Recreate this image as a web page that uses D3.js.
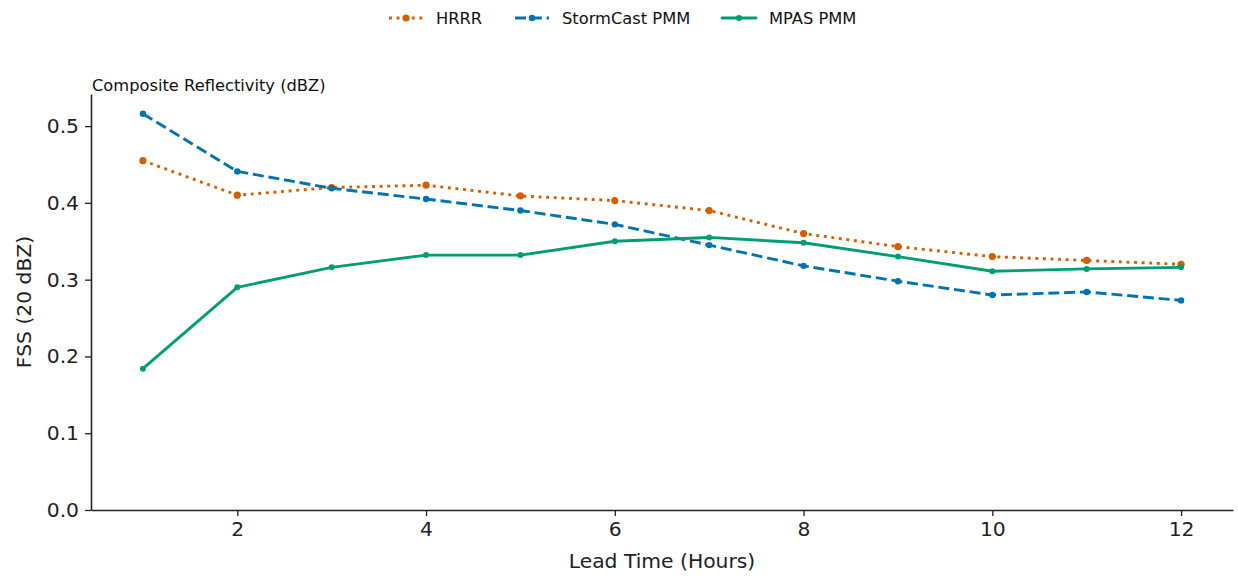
<!DOCTYPE html>
<html>
<head>
<meta charset="utf-8">
<script src="https://cdn.jsdelivr.net/npm/d3@7"></script>
<style>
  body { margin: 0; background: #fff; }
  svg { display: block; font-family: "DejaVu Sans", sans-serif; }
</style>
</head>
<body>
<div id="chart"></div>
<script>
const width = 1238;
const height = 576;
const marginTop = 94;
const marginRight = 5;
const marginBottom = 66;
const marginLeft = 91;

// lead times in hours
const leadTimes = [1, 2, 3, 4, 5, 6, 7, 8, 9, 10, 11, 12];
const hrrr = [0.455, 0.410, 0.420, 0.423, 0.409, 0.403, 0.390, 0.360, 0.343, 0.330, 0.325, 0.320];
const stormcast = [0.516, 0.441, 0.419, 0.405, 0.390, 0.372, 0.345, 0.318, 0.298, 0.280, 0.284, 0.273];
const mpas = [0.184, 0.290, 0.316, 0.332, 0.332, 0.350, 0.355, 0.348, 0.330, 0.311, 0.314, 0.316];
const xTicks = [2, 4, 6, 8, 10, 12];
const yTicks = [0, 0.1, 0.2, 0.3, 0.4, 0.5];

const series = [
    { name: "HRRR", values: hrrr, color: "#d55e00", dash: "2.9,4.7", cap: "butt", r: 3.6 },
    { name: "StormCast PMM", values: stormcast, color: "#0173b2", dash: "11,4.8", cap: "butt", r: 3.2 },
    { name: "MPAS PMM", values: mpas, color: "#029e73", dash: null, cap: "round", r: 3 }
];

const svg = d3.select("#chart")
    .append("svg")
    .attr("width", width)
    .attr("height", height)
    .attr("viewBox", [0, 0, width, height]);

const x = d3.scaleLinear()
    .domain([0.45, 12.55])
    .range([marginLeft, width - marginRight]);

const y = d3.scaleLinear()
    .domain([0, 0.5418])
    .range([height - marginBottom, marginTop]);

const tickFont = 20.3;

// axes
svg.append("g")
    .attr("transform", `translate(0,${height - marginBottom})`)
    .call(d3.axisBottom(x).tickValues(xTicks).tickFormat(d3.format("d")).tickSize(6).tickPadding(6).tickSizeOuter(0))
    .call(g => g.select(".domain").attr("stroke", "#222").attr("stroke-width", 1.6))
    .call(g => g.selectAll(".tick line").attr("stroke", "#222").attr("stroke-width", 1.3))
    .call(g => g.selectAll(".tick text").attr("font-size", tickFont).attr("fill", "#222").attr("font-family", "DejaVu Sans"));

svg.append("g")
    .attr("transform", `translate(${marginLeft},0)`)
    .call(d3.axisLeft(y).tickValues(yTicks).tickFormat(d3.format(".1f")).tickSize(6).tickPadding(6).tickSizeOuter(0))
    .call(g => g.select(".domain").attr("stroke", "#222").attr("stroke-width", 1.6))
    .call(g => g.selectAll(".tick line").attr("stroke", "#222").attr("stroke-width", 1.3))
    .call(g => g.selectAll(".tick text").attr("font-size", tickFont).attr("fill", "#222").attr("font-family", "DejaVu Sans"));

// axis labels + title
svg.append("text")
    .attr("x", (marginLeft + width - marginRight) / 2)
    .attr("y", 568)
    .attr("text-anchor", "middle")
    .attr("font-size", tickFont)
    .attr("fill", "#222")
    .text("Lead Time (Hours)");

svg.append("text")
    .attr("transform", `translate(31,${(marginTop + height - marginBottom) / 2}) rotate(-90)`)
    .attr("text-anchor", "middle")
    .attr("font-size", tickFont)
    .attr("fill", "#222")
    .text("FSS (20 dBZ)");

svg.append("text")
    .attr("x", 92)
    .attr("y", 91)
    .attr("font-size", 16.3)
    .attr("fill", "#111")
    .text("Composite Reflectivity (dBZ)");

// lines
const line = d3.line()
    .x((d, i) => x(leadTimes[i]))
    .y(d => y(d));

series.forEach(s => {
    const g = svg.append("g");
    g.append("path")
        .datum(s.values)
        .attr("fill", "none")
        .attr("stroke", s.color)
        .attr("stroke-width", 2.9)
        .attr("stroke-linecap", s.cap)
        .attr("stroke-linejoin", "round")
        .attr("stroke-dasharray", s.dash)
        .attr("d", line);
    g.selectAll("circle")
        .data(s.values)
        .join("circle")
        .attr("cx", (d, i) => x(leadTimes[i]))
        .attr("cy", d => y(d))
        .attr("r", s.r)
        .attr("fill", s.color);
});

// legend
const legendX = [389, 515, 722];
const legend = svg.append("g");
series.forEach((s, i) => {
    const lg = legend.append("g").attr("transform", `translate(${legendX[i]},18)`);
    lg.append("line")
        .attr("x1", 0).attr("x2", 34)
        .attr("stroke", s.color)
        .attr("stroke-width", 2.9)
        .attr("stroke-dasharray", s.dash)
        .attr("stroke-linecap", s.cap);
    lg.append("circle").attr("cx", 17).attr("r", s.r).attr("fill", s.color);
    lg.append("text")
        .attr("x", 47)
        .attr("dy", "0.35em")
        .attr("font-size", 16.3)
        .attr("fill", "#111")
        .text(s.name);
});
</script>
</body>
</html>
